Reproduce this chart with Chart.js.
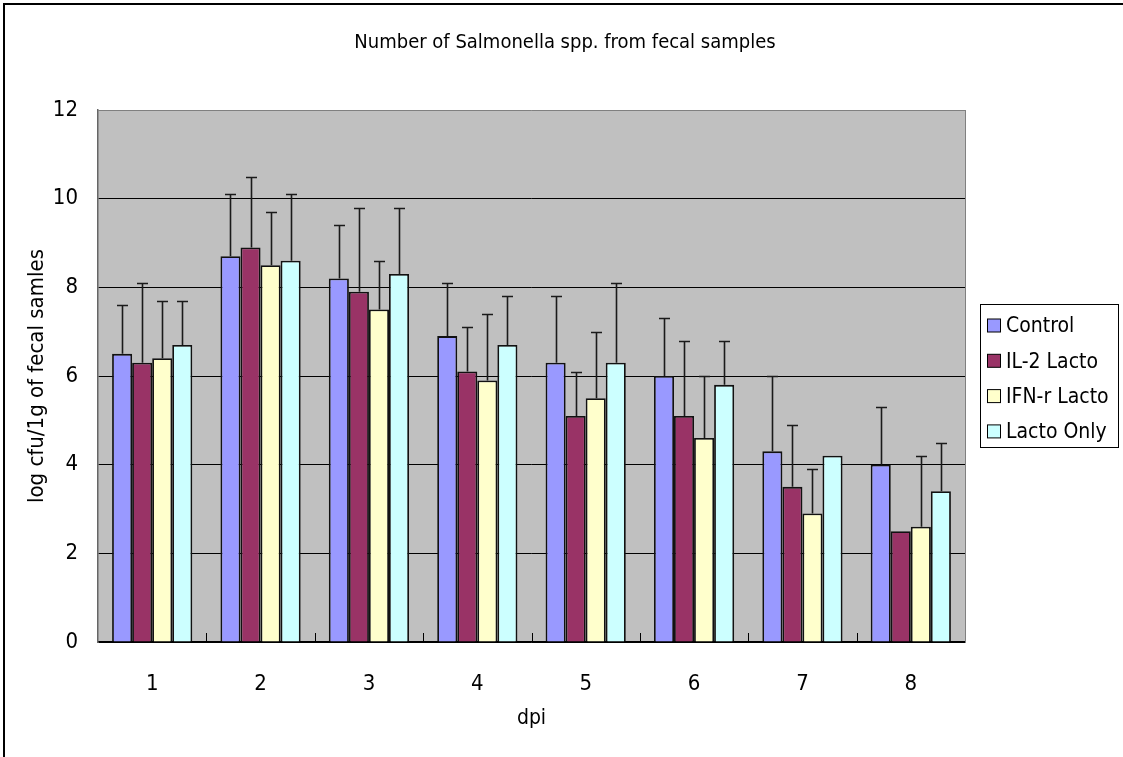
<!DOCTYPE html>
<html><head><meta charset="utf-8">
<script src="https://cdn.jsdelivr.net/npm/chart.js@4/dist/chart.umd.min.js"></script>
<style>html,body{margin:0;padding:0;background:#fff}#wrap{width:1123px;height:757px;position:relative}</style>
</head><body><div id="wrap"><canvas id="c" width="1123" height="757"></canvas></div>
<script>
const categories = ['1','2','3','4','5','6','7','8'];
const seriesNames = ['Control','IL-2 Lacto','IFN-r Lacto','Lacto Only'];
const control = [6.5,8.7,8.2,6.9,6.3,6.0,4.3,4.0];
const il2Lacto = [6.3,8.9,7.9,6.1,5.1,5.1,3.5,2.5];
const ifnLacto = [6.4,8.5,7.5,5.9,5.5,4.6,2.9,2.6];
const lactoOnly = [6.7,8.6,8.3,6.7,6.3,5.8,4.2,3.4];
const controlErr = [1.1,1.4,1.2,1.2,1.5,1.3,1.7,1.3];
const il2LactoErr = [1.8,1.6,1.9,1.0,1.0,1.7,1.4,0];
const ifnLactoErr = [1.3,1.2,1.1,1.5,1.5,1.4,1.0,1.6];
const lactoOnlyErr = [1.0,1.5,1.5,1.1,1.8,1.0,0,1.1];
const yTicks = [0,2,4,6,8,10,12];
const titleText = 'Number of Salmonella spp. from fecal samples';
const xTitle = 'dpi';
const yTitle = 'log cfu/1g of fecal samles';

const FONT = "'Liberation Sans Narrow','DejaVu Sans Condensed','Liberation Sans',sans-serif";
const colors = ['#9999FF','#993366','#FFFFCC','#CCFFFF'];
const values = [control, il2Lacto, ifnLacto, lactoOnly];
const errs = [controlErr, il2LactoErr, ifnLactoErr, lactoOnlyErr];

const datasets = seriesNames.map((n,i)=>({
  label:n, data:values[i], errors:errs[i],
  backgroundColor:colors[i], borderColor:'#111', borderWidth:1.8,
  categoryPercentage:0.74, barPercentage:1.0
}));

const deco = {
  id:'deco',
  beforeDraw(chart){
    const {ctx, chartArea:a} = chart;
    ctx.save();
    ctx.fillStyle = '#C0C0C0';
    ctx.fillRect(a.left, a.top, a.right-a.left, a.bottom-a.top);
    ctx.restore();
  },
  afterDatasetsDraw(chart){
    const {ctx} = chart;
    const ys = chart.scales.y;
    ctx.save();
    ctx.strokeStyle = '#1a1a1a';
    ctx.lineWidth = 1.6;
    chart.data.datasets.forEach((ds,di)=>{
      const meta = chart.getDatasetMeta(di);
      meta.data.forEach((bar,j)=>{
        const e = ds.errors[j];
        if(!e) return;
        const x = Math.round(bar.x)+0.5;
        const y0 = ys.getPixelForValue(ds.data[j]);
        const y1 = Math.round(ys.getPixelForValue(ds.data[j]+e))+0.5;
        ctx.beginPath();
        ctx.moveTo(x,y0); ctx.lineTo(x,y1);
        ctx.moveTo(x-5.5,y1); ctx.lineTo(x+5.5,y1);
        ctx.stroke();
      });
    });
    ctx.restore();
  },
  afterDraw(chart){
    const {ctx, chartArea:a} = chart;
    const xs = chart.scales.x;
    ctx.save();
    ctx.strokeStyle = '#808080'; ctx.lineWidth = 1;
    ctx.beginPath(); ctx.moveTo(a.right+0.5,a.top); ctx.lineTo(a.right+0.5,a.bottom); ctx.stroke();
    ctx.strokeStyle = '#000';
    const n = chart.data.labels.length;
    for(let i=1;i<n;i++){
      const x = Math.round((xs.getPixelForValue(i-1)+xs.getPixelForValue(i))/2)+0.5;
      ctx.beginPath(); ctx.moveTo(x,a.bottom-9); ctx.lineTo(x,a.bottom); ctx.stroke();
    }
    ctx.fillStyle = '#000';
    ctx.font = "20px " + FONT;
    ctx.textAlign = 'center'; ctx.textBaseline = 'middle';
    ctx.fillText(titleText, 565, 43);
    const lx=980.5, ly=304.5, lw=138, lh=143;
    ctx.fillStyle = '#fff'; ctx.fillRect(lx,ly,lw,lh);
    ctx.strokeStyle = '#000'; ctx.lineWidth = 1;
    ctx.strokeRect(lx,ly,lw,lh);
    ctx.font = "21px " + FONT;
    ctx.textAlign = 'left';
    chart.data.datasets.forEach((ds,i)=>{
      const cy = 326 + i*35.3;
      ctx.fillStyle = ds.backgroundColor;
      ctx.fillRect(987.5, cy-7, 13, 13);
      ctx.strokeStyle = '#000';
      ctx.strokeRect(987.5, cy-7, 13, 13);
      ctx.fillStyle = '#000';
      ctx.fillText(ds.label, 1006, cy+1);
    });
    ctx.strokeStyle = '#000'; ctx.lineWidth = 2;
    ctx.beginPath(); ctx.moveTo(1123,4); ctx.lineTo(4,4); ctx.lineTo(4,757); ctx.stroke();
    ctx.restore();
  }
};

new Chart(document.getElementById('c'), {
  type:'bar',
  data:{labels:categories, datasets},
  options:{
    responsive:false, animation:false,
    layout:{padding:{top:110, right:158, left:0, bottom:0}},
    plugins:{legend:{display:false}, title:{display:false}, tooltip:{enabled:false}},
    scales:{
      x:{
        afterFit(s){ s.height = 115; },
        grid:{display:false},
        border:{display:true, color:'#000', width:1.5},
        ticks:{color:'#000', padding:21, font:{family:FONT, size:22}},
        title:{display:true, text:xTitle, color:'#000', font:{family:FONT, size:21, lineHeight:1.2}, padding:{top:0,bottom:26}}
      },
      y:{
        min:0, max:12,
        afterFit(s){ s.width = 98; },
        afterBuildTicks(s){ s.ticks = yTicks.map(v=>({value:v})); },
        grid:{drawTicks:false, color:(c)=> c.tick && c.tick.value===12 ? '#808080' : '#000', lineWidth:1},
        border:{display:true, color:'#666', width:1.5},
        ticks:{color:'#000', padding:20, font:{family:FONT, size:22}},
        title:{display:true, text:yTitle, color:'#000', font:{family:FONT, size:22, lineHeight:1.2}, padding:{top:24,bottom:0}}
      }
    }
  },
  plugins:[deco]
});
</script></body></html>
